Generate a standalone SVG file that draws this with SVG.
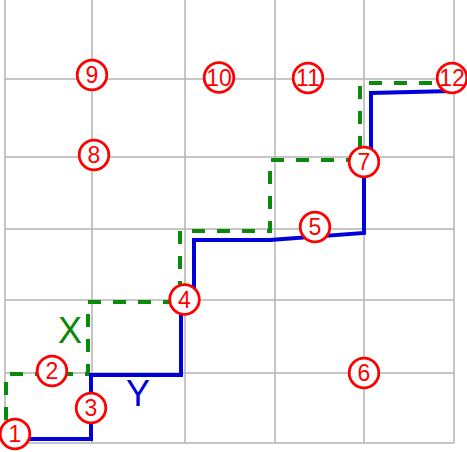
<svg xmlns="http://www.w3.org/2000/svg" width="467" height="452" viewBox="0 0 467 452">
<style>
.grid{stroke:#b4b4b4;stroke-width:1.5;fill:none}
.node circle{fill:#fff;stroke:#f00;stroke-width:2.8}
.node text{font-family:"Liberation Sans",Arial,sans-serif;font-size:23px;fill:#f00;text-anchor:middle}
.x{stroke:#0a8a0a;stroke-width:4;fill:none;stroke-dasharray:13 12}
.y{stroke:#0000dd;stroke-width:4;fill:none;stroke-linejoin:miter}
.lbl{font-family:"Liberation Sans",Arial,sans-serif;font-size:36px;text-anchor:middle}
</style>
<rect width="467" height="452" fill="#fff"/>
<g id="grid" class="grid">
<path d="M5 0V443M92 0V443M185 0V443M275 0V443M364 0V443M454 0V443"/>
<path d="M5 79H454M5 157H454M5 229H454M5 300H454M5 373H454M5 443H454"/>
</g>
<g id="connectors">
<path class="x" d="M6 420V374H88V302H180V231H270V160H360V83H452"/>
<path class="y" d="M15 439H91V375H181V300H194V240H270L364 233V162H371V93L452 91"/>
<text class="lbl" x="70" y="343" fill="#0a8a0a">X</text>
<text class="lbl" x="138" y="406" fill="#0000dd">Y</text>
</g>
<g id="n1" class="node"><circle cx="15" cy="434" r="14.8"/><text x="15" y="442">1</text></g>
<g id="n2" class="node"><circle cx="52" cy="371" r="14.8"/><text x="52" y="379">2</text></g>
<g id="n3" class="node"><circle cx="91" cy="408" r="14.8"/><text x="91" y="416">3</text></g>
<g id="n4" class="node"><circle cx="184.5" cy="299.5" r="14.8"/><text x="184.5" y="307.5">4</text></g>
<g id="n5" class="node"><circle cx="315" cy="227" r="14.8"/><text x="315" y="235">5</text></g>
<g id="n6" class="node"><circle cx="364" cy="373" r="14.8"/><text x="364" y="381">6</text></g>
<g id="n7" class="node"><circle cx="364" cy="162" r="14.8"/><text x="364" y="170">7</text></g>
<g id="n8" class="node"><circle cx="94" cy="155" r="14.8"/><text x="94" y="163">8</text></g>
<g id="n9" class="node"><circle cx="92" cy="75" r="14.8"/><text x="92" y="83">9</text></g>
<g id="n10" class="node"><circle cx="219" cy="77.5" r="14.8"/><text x="219" y="85.5">10</text></g>
<g id="n11" class="node"><circle cx="308" cy="78" r="14.8"/><text x="308" y="86">11</text></g>
<g id="n12" class="node"><circle cx="452" cy="78" r="14.8"/><text x="452" y="86">12</text></g>
</svg>
